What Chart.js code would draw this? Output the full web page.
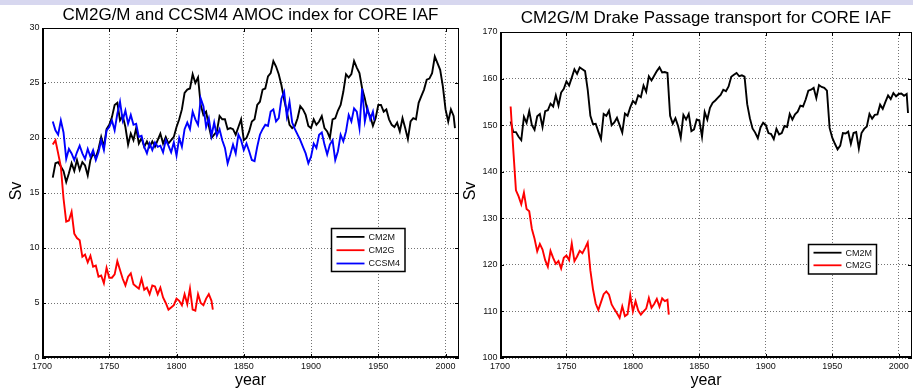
<!DOCTYPE html>
<html>
<head>
<meta charset="utf-8">
<script src="https://cdn.jsdelivr.net/npm/chart.js@4.4.1/dist/chart.umd.min.js"></script>
<style>
  body { margin: 0; background: #fff; width: 913px; height: 388px; overflow: hidden; position: relative; }
  #band { position: absolute; left: 0; top: 0; width: 913px; height: 5px; background: #d7d7ef; }
  canvas { position: absolute; left: 0; top: 0; }
</style>
</head>
<body>
<div id="band"></div>
<canvas id="amocChart" width="913" height="388"></canvas>
<canvas id="drakeChart" width="913" height="388"></canvas>
<script>
const FONT = '"Liberation Sans", Arial, Helvetica, sans-serif';

// ---- data: annual model output, read every 2 years plus the last year ----
const seriesNames = ['CM2M', 'CM2G', 'CCSM4'];
const xTicks = [1700, 1750, 1800, 1850, 1900, 1950, 2000];
const amocTicks = [0, 5, 10, 15, 20, 25, 30];
const drakeTicks = [100, 110, 120, 130, 140, 150, 160, 170];

// AMOC index (Sv)
const amocCm2m = [
  16.4, 17.7, 17.8, 17.4, 17.0, 16.0, 16.8, 17.7, 17.0, 18.0,
  17.1, 17.8, 17.5, 16.6, 18.0, 18.6, 18.2, 19.0, 20.1, 19.2,
  20.8, 21.2, 21.9, 23.0, 23.2, 21.6, 22.0, 21.0, 19.4, 20.4,
  19.8, 20.9, 19.5, 20.0, 19.2, 19.7, 19.2, 19.7, 19.2, 19.8,
  20.4, 19.5, 20.1, 19.5, 19.8, 20.1, 21.0, 21.7, 22.6, 24.1,
  24.4, 24.5, 25.8, 25.0, 25.5, 23.0, 22.1, 22.4, 21.1, 20.0,
  20.3, 20.6, 22.0, 21.7, 21.7, 20.8, 20.9, 20.8, 20.3, 21.0,
  21.7, 19.8, 20.0, 20.6, 21.5, 21.7, 23.0, 23.3, 24.4, 24.5,
  25.6, 25.9, 27.0, 26.5, 25.8, 24.8, 23.5, 22.4, 21.2, 20.9,
  21.1, 21.8, 22.9, 22.6, 22.1, 21.1, 20.9, 21.7, 21.2, 21.5,
  22.0, 20.9, 20.6, 20.0, 21.7, 21.8, 22.5, 23.0, 24.2, 25.8,
  25.5, 25.8, 27.0, 26.4, 25.9, 24.5, 23.6, 22.4, 22.0, 21.1,
  21.8, 23.0, 23.0, 22.4, 22.6, 21.7, 21.2, 21.0, 21.4, 20.6,
  21.8, 20.9, 19.9, 21.5, 21.8, 21.7, 23.2, 23.8, 24.4, 25.3,
  25.4, 25.9, 27.4, 26.8, 26.2, 24.7, 22.6, 21.5, 22.6, 22.0,
  20.9
];
const amocCm2g = [
  19.4, 19.8, 18.6, 17.4, 14.5, 12.4, 12.5, 13.3, 11.3, 10.9,
  10.7, 9.2, 9.4, 8.7, 9.3, 8.3, 8.4, 7.4, 7.5, 6.8,
  8.2, 7.3, 7.3, 7.6, 8.8, 8.0, 7.2, 6.6, 7.4, 7.7,
  6.7, 6.5, 6.3, 7.2, 6.2, 6.4, 5.8, 6.6, 6.5, 5.8,
  6.4, 5.5, 5.0, 4.4, 4.6, 4.8, 5.4, 5.2, 4.8, 5.8,
  4.9, 6.3, 4.4, 4.3, 5.8, 5.0, 4.8, 5.4, 5.8, 5.2,
  4.4
];
const amocCcsm4 = [
  21.5, 20.7, 20.3, 21.6, 20.5, 18.1, 19.0, 18.6, 18.0, 18.7,
  19.3, 18.6, 18.1, 19.0, 18.3, 18.9, 18.0, 18.7, 19.8, 18.9,
  20.7, 21.0, 21.6, 20.7, 22.2, 23.3, 21.6, 22.5, 21.3, 22.1,
  21.2, 21.3, 20.1, 20.2, 19.2, 18.6, 19.5, 18.9, 19.6, 19.2,
  19.3, 18.7, 19.8, 19.3, 18.7, 19.6, 18.4, 20.0, 19.2, 20.8,
  21.4, 20.8, 22.4, 21.7, 21.2, 23.6, 22.9, 21.0, 21.8, 20.2,
  21.4, 20.2, 20.8, 19.8, 19.1, 17.7, 18.5, 19.4, 18.6, 20.3,
  19.8, 18.9, 19.5, 18.8, 18.0, 17.9, 19.2, 20.3, 20.8, 21.2,
  21.1, 22.4, 22.6, 21.5, 21.8, 23.6, 24.2, 22.0, 23.3, 21.4,
  20.8, 20.3, 19.8, 19.2, 18.6, 17.7, 18.3, 19.5, 19.1, 20.3,
  20.5, 19.4, 18.5, 19.4, 19.8, 18.0, 18.8, 20.3, 19.7, 20.6,
  22.1, 21.5, 22.7, 22.4, 20.9, 24.5, 21.5, 22.7, 21.7, 22.4,
  21.6
];

// Drake Passage transport (Sv)
const drakeCm2m = [
  150.8, 148.5, 148.5, 147.5, 146.8, 151.8, 150.5, 153.0, 150.0, 149.0,
  151.9, 152.4, 149.6, 153.0, 153.2, 154.6, 154.0, 156.4, 154.2, 157.0,
  157.8, 159.4, 158.5, 160.2, 162.0, 161.0, 162.4, 162.0, 161.6, 157.6,
  152.0, 150.2, 150.3, 148.6, 147.0, 152.4, 152.0, 153.1, 150.0, 150.6,
  151.6, 150.0, 148.4, 152.5, 152.0, 153.8, 155.2, 154.6, 156.4, 156.0,
  158.5, 157.2, 160.5, 159.6, 160.6, 161.6, 162.4, 161.3, 161.4, 161.2,
  152.0, 150.3, 151.5, 149.8, 147.3, 152.2, 151.2, 152.4, 148.7, 149.1,
  151.2, 151.0, 147.5, 152.8, 151.2, 153.7, 154.8, 155.3, 155.9, 156.5,
  157.6, 157.3, 158.3, 160.4, 160.8, 161.2, 160.5, 160.7, 160.4, 154.5,
  151.5, 149.3, 148.4, 147.2, 149.5, 150.5, 150.0, 148.3, 148.1, 147.0,
  149.2, 148.0, 148.3, 149.8, 149.6, 152.4, 151.2, 152.3, 152.9, 154.2,
  154.0, 155.5, 157.4, 157.6, 158.0, 155.8, 158.6, 158.2, 158.0, 157.4,
  149.4, 147.3, 146.0, 144.8, 145.6, 148.3, 148.2, 148.6, 146.0, 148.3,
  148.5, 145.0, 148.3, 149.2, 149.7, 152.4, 151.4, 152.2, 152.3, 154.4,
  153.5, 155.0, 156.4, 155.6, 156.9, 156.2, 156.7, 156.8, 156.3, 156.7,
  152.6
];
const drakeCm2g = [
  154.0, 144.7, 136.0, 134.7, 133.0, 135.5, 132.0, 131.5, 127.7, 125.6,
  122.9, 124.5, 123.3, 121.0, 119.6, 123.0, 121.5, 120.2, 120.8, 119.2,
  121.5, 122.0, 121.0, 124.6, 120.8, 121.8, 123.0, 122.5, 123.6, 124.8,
  118.8, 114.7, 111.7, 110.3, 112.0, 113.7, 114.3, 113.6, 111.5, 110.5,
  109.6, 108.6, 111.1, 109.0, 109.4, 113.5, 110.0, 112.2, 110.2, 109.3,
  110.0, 110.6, 112.9, 110.8, 111.6, 112.7, 111.0, 112.8, 112.2, 112.5,
  109.3
];

function stepYears(first, last, step, finalYear) {
  const years = [];
  for (let y = first; y <= last; y += step) years.push(y);
  years.push(finalYear);
  return years;
}

const yearsTo2007 = stepYears(1708, 2006, 2, 2007);
const yearsTo1947 = stepYears(1708, 1946, 2, 1947);
const yearsTo1827 = stepYears(1708, 1826, 2, 1827);

function toPoints(years, values) {
  return values.map((v, i) => ({ x: years[i], y: v }));
}

function lineSet(label, color, years, values, order) {
  return {
    label: label,
    data: toPoints(years, values),
    borderColor: color,
    backgroundColor: color,
    borderWidth: 1.9,
    pointRadius: 0,
    tension: 0,
    order: order
  };
}

// draws the matlab style box, inward ticks, titles and legend
const matlabAxes = {
  id: 'matlabAxes',
  afterDraw(chart, args, opts) {
    const ctx = chart.ctx;
    const a = chart.chartArea;
    const xs = chart.scales.x;
    const ys = chart.scales.y;
    ctx.save();

    ctx.strokeStyle = '#000';
    ctx.lineWidth = 1;
    ctx.beginPath();
    xs.ticks.forEach(t => {
      const px = Math.round(xs.getPixelForValue(t.value)) + 0.5;
      ctx.moveTo(px, a.bottom); ctx.lineTo(px, a.bottom - 4);
      ctx.moveTo(px, a.top); ctx.lineTo(px, a.top + 4);
    });
    ys.ticks.forEach(t => {
      const py = Math.round(ys.getPixelForValue(t.value)) + 0.5;
      ctx.moveTo(a.left, py); ctx.lineTo(a.left + 4, py);
      ctx.moveTo(a.right, py); ctx.lineTo(a.right - 4, py);
    });
    ctx.stroke();

    ctx.beginPath();
    ctx.moveTo(a.left, a.top + 0.5); ctx.lineTo(a.right - 0.5, a.top + 0.5);
    ctx.lineTo(a.right - 0.5, a.bottom);
    ctx.stroke();
    ctx.lineWidth = 2;
    ctx.beginPath();
    ctx.moveTo(a.left + 1, a.top); ctx.lineTo(a.left + 1, a.bottom - 1);
    ctx.lineTo(a.right, a.bottom - 1);
    ctx.stroke();

    const cx = (a.left + a.right) / 2;
    ctx.fillStyle = '#000';
    ctx.textAlign = 'center';
    ctx.textBaseline = 'alphabetic';
    ctx.font = '17px ' + FONT;
    ctx.fillText(opts.title, cx, opts.titleY);
    ctx.font = '16px ' + FONT;
    ctx.fillText(opts.xLabel, cx, opts.xLabelY);
    ctx.save();
    ctx.translate(opts.yLabelX, opts.yLabelY);
    ctx.rotate(-Math.PI / 2);
    ctx.fillText(opts.yLabel, 0, 0);
    ctx.restore();

    // legend
    const lg = opts.legend;
    ctx.fillStyle = '#fff';
    ctx.fillRect(lg.x, lg.y, lg.w, lg.h);
    ctx.lineWidth = 1.5;
    ctx.strokeStyle = '#000';
    ctx.strokeRect(lg.x, lg.y, lg.w, lg.h);
    ctx.font = '9px ' + FONT;
    ctx.textAlign = 'left';
    ctx.textBaseline = 'middle';
    chart.data.datasets.forEach((ds, i) => {
      const ry = lg.y + lg.first + i * lg.rowGap;
      ctx.strokeStyle = ds.borderColor;
      ctx.lineWidth = 1.8;
      ctx.beginPath();
      ctx.moveTo(lg.x + 5, ry); ctx.lineTo(lg.x + 33, ry);
      ctx.stroke();
      ctx.fillStyle = '#111';
      ctx.fillText(ds.label, lg.x + 37, ry + 0.5);
    });
    ctx.restore();
  }
};

function axisOptions(min, max, step, fitSize, isX) {
  return {
    type: 'linear',
    min: min,
    max: max,
    afterFit(scale) {
      if (isX) scale.height = fitSize; else scale.width = fitSize;
    },
    ticks: {
      stepSize: step,
      includeBounds: false,
      autoSkip: false,
      maxRotation: 0,
      padding: isX ? 3 : 2.5,
      color: '#111',
      font: { family: FONT, size: 9 },
      callback: value => String(value)
    },
    grid: { color: 'rgba(0,0,0,0.55)', lineWidth: 1, drawTicks: false },
    border: { display: false, dash: [1, 2] }
  };
}

function makeChart(id, datasets, yMin, yMax, yStep, padding, plotOpts) {
  return new Chart(document.getElementById(id), {
    type: 'line',
    data: { datasets: datasets },
    options: {
      responsive: false,
      animation: false,
      devicePixelRatio: 1,
      layout: { padding: padding },
      scales: {
        x: axisOptions(xTicks[0], 2010, xTicks[1] - xTicks[0], 30, true),
        y: axisOptions(yMin, yMax, yStep, 42, false)
      },
      plugins: {
        legend: { display: false },
        tooltip: { enabled: false },
        matlabAxes: plotOpts
      }
    },
    plugins: [matlabAxes]
  });
}

makeChart('amocChart', [
  lineSet(seriesNames[0], '#000000', yearsTo2007, amocCm2m, 3),
  lineSet(seriesNames[1], '#ff0000', yearsTo1827, amocCm2g, 2),
  lineSet(seriesNames[2], '#0000ff', yearsTo1947, amocCcsm4, 1)
], amocTicks[0], amocTicks[amocTicks.length - 1], amocTicks[1] - amocTicks[0],
  { left: 0, top: 28, right: 454, bottom: 0 },
  {
    title: 'CM2G/M and CCSM4 AMOC index for CORE IAF', titleY: 19.5,
    xLabel: 'year', xLabelY: 384.5,
    yLabel: 'Sv', yLabelX: 21, yLabelY: 191,
    legend: { x: 331.5, y: 228.5, w: 73.5, h: 43, first: 8.4, rowGap: 13.3 }
  });

makeChart('drakeChart', [
  lineSet(seriesNames[0], '#000000', yearsTo2007, drakeCm2m, 2),
  lineSet(seriesNames[1], '#ff0000', yearsTo1827, drakeCm2g, 1)
], drakeTicks[0], drakeTicks[drakeTicks.length - 1], drakeTicks[1] - drakeTicks[0],
  { left: 458, top: 32, right: 1, bottom: 0 },
  {
    title: 'CM2G/M Drake Passage transport for CORE IAF', titleY: 22.5,
    xLabel: 'year', xLabelY: 384.5,
    yLabel: 'Sv', yLabelX: 475, yLabelY: 191,
    legend: { x: 808.5, y: 244.5, w: 68, h: 29.5, first: 8.2, rowGap: 12.6 }
  });
</script>
</body>
</html>
